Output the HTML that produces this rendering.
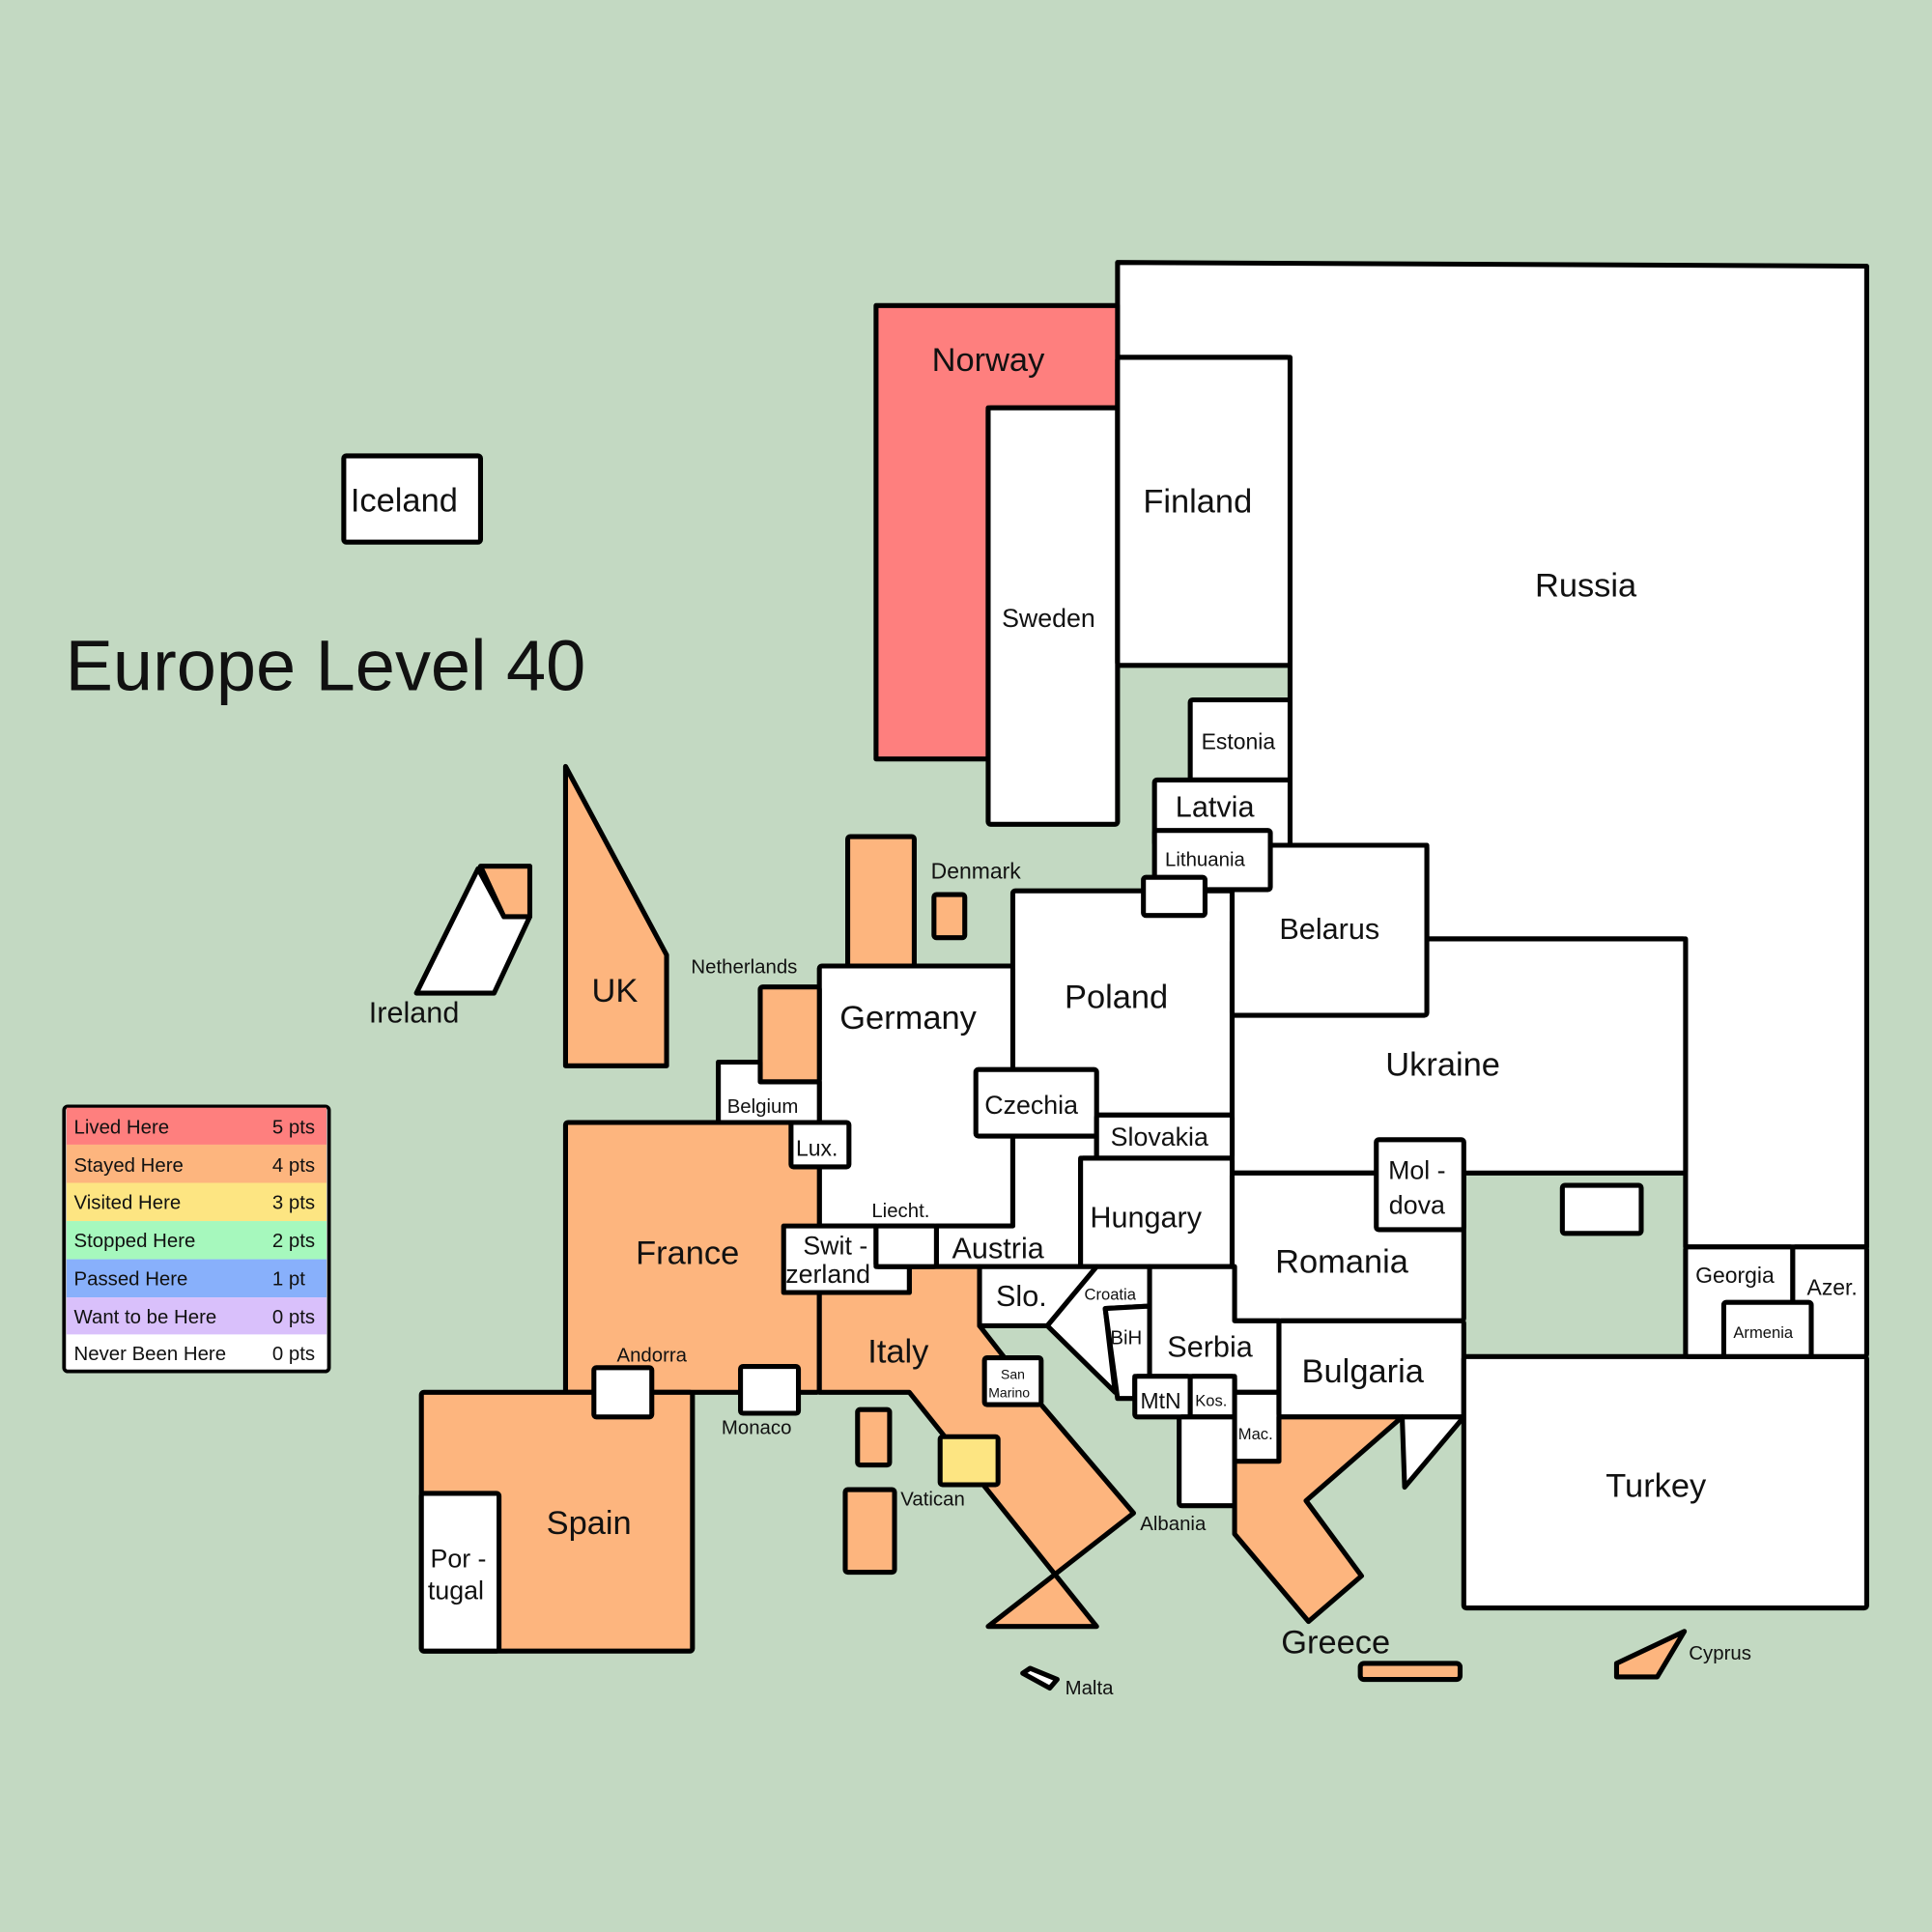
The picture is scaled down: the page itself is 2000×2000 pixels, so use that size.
<!DOCTYPE html>
<html><head><meta charset="utf-8"><style>html,body{margin:0;padding:0;background:#c3d9c2}svg{display:block}</style></head>
<body>
<svg xmlns="http://www.w3.org/2000/svg" width="2000" height="2000" viewBox="0 0 1568 1568" font-family="Liberation Sans, sans-serif">
<rect width="1568" height="1568" fill="#c3d9c2"/>
<g stroke="#000" stroke-width="4" stroke-linejoin="round">
<polygon fill="#fff" points="907,213 1515,216 1515,1012 1368,1012 1368,762 1158,762 1158,686 1047,686 1047,290 907,290"/>
<polygon fill="#fe7f7e" points="711,248 907,248 907,331 802,331 802,616 711,616"/>
<rect x="802" y="331" width="105" height="338" rx="2" fill="#fff"/>
<rect x="907" y="290" width="140" height="250" rx="2" fill="#fff"/>
<rect x="966" y="568" width="81" height="65" rx="2" fill="#fff"/>
<rect x="937" y="633" width="110" height="53" rx="2" fill="#fff"/>
<rect x="822" y="723" width="178" height="182" rx="2" fill="#fff"/>
<rect x="1000" y="762" width="368" height="190" rx="2" fill="#fff"/>
<rect x="1000" y="686" width="158" height="138" rx="2" fill="#fff"/>
<rect x="937" y="674" width="94" height="48" rx="2" fill="#fff"/>
<rect x="928" y="712" width="50" height="31" rx="2" fill="#fff"/>
<rect x="688" y="679" width="54" height="105" rx="2" fill="#fdb57e"/>
<rect x="758" y="726" width="25" height="35" rx="2" fill="#fdb57e"/>
<rect x="665" y="784" width="157" height="211" rx="2" fill="#fff"/>
<polygon fill="#fff" points="822,922 890,922 890,940 877,940 877,1028 760,1028 760,995 822,995"/>
<rect x="792" y="868" width="98" height="54" rx="2" fill="#fff"/>
<rect x="890" y="905" width="110" height="35" rx="2" fill="#fff"/>
<rect x="877" y="940" width="123" height="88" rx="2" fill="#fff"/>
<rect x="1000" y="952" width="188" height="120" rx="2" fill="#fff"/>
<rect x="1117" y="925" width="71" height="73" rx="2" fill="#fff"/>
<rect x="1268" y="962" width="64" height="39" rx="2" fill="#fff"/>
<rect x="617" y="801" width="48" height="77" rx="2" fill="#fdb57e"/>
<polygon fill="#fff" points="583,862 617,862 617,878 665,878 665,911 583,911"/>
<rect x="459" y="911" width="206" height="219" rx="2" fill="#fdb57e"/>
<rect x="642" y="911" width="47" height="36" rx="2" fill="#fff"/>
<polygon fill="#fdb57e" points="665,1130 738,1130 890,1320 802,1320 920,1228 845,1140 795,1076 795,1028 738,1028 738,1049 665,1049"/>
<polygon fill="#fff" points="636,995 711,995 711,1028 738,1028 738,1049 636,1049"/>
<rect x="711" y="995" width="49" height="33" rx="2" fill="#fff"/>
<polygon fill="#fff" points="795,1028 890,1028 850,1076 795,1076"/>
<polygon fill="#fff" points="890,1028 933,1028 933,1060 897,1062 905,1130 850,1076"/>
<polygon fill="#fff" points="897,1062 933,1060 933,1117 921,1117 921,1135 907,1135"/>
<polygon fill="#fff" points="933,1028 1002,1028 1002,1072 1038,1072 1038,1130 1002,1130 1002,1117 933,1117"/>
<rect x="921" y="1117" width="45" height="33" rx="2" fill="#fff"/>
<rect x="966" y="1117" width="36" height="33" rx="2" fill="#fff"/>
<rect x="957" y="1150" width="45" height="72" rx="2" fill="#fff"/>
<rect x="1002" y="1130" width="36" height="56" rx="2" fill="#fff"/>
<rect x="1038" y="1072" width="150" height="78" rx="2" fill="#fff"/>
<polygon fill="#fdb57e" points="1002,1186 1038,1186 1038,1150 1138,1150 1060,1218 1105,1279 1062,1316 1002,1245"/>
<polygon fill="#fff" points="1138,1150 1188,1150 1140,1207"/>
<rect x="1188" y="1101" width="327" height="204" rx="2" fill="#fff"/>
<rect x="1368" y="1012" width="87" height="89" rx="2" fill="#fff"/>
<rect x="1455" y="1012" width="60" height="89" rx="2" fill="#fff"/>
<rect x="1399" y="1057" width="71" height="44" rx="2" fill="#fff"/>
<rect x="1104" y="1350" width="81" height="13" rx="3" fill="#fdb57e"/>
<polygon fill="#fdb57e" points="1312,1350 1367,1324 1345,1361 1312,1361"/>
<polygon fill="#fff" points="830,1358 836,1354 858,1363 852,1370"/>
<rect x="342" y="1130" width="220" height="210" rx="2" fill="#fdb57e"/>
<rect x="342" y="1212" width="63" height="128" rx="2" fill="#fff"/>
<rect x="482" y="1110" width="47" height="40" rx="2" fill="#fff"/>
<rect x="601" y="1109" width="47" height="38" rx="2" fill="#fff"/>
<rect x="696" y="1144" width="26" height="45" rx="2" fill="#fdb57e"/>
<rect x="686" y="1209" width="40" height="67" rx="2" fill="#fdb57e"/>
<rect x="763" y="1166" width="47" height="39" rx="2" fill="#fde582"/>
<rect x="799" y="1102" width="46" height="38" rx="2" fill="#fff"/>
<polygon fill="#fdb57e" points="459,622 541,775 541,865 459,865"/>
<polygon fill="#fff" points="388,705 409,744 430,744 401,806 338,806"/>
<polygon fill="#fdb57e" points="390,703 430,703 430,744 409,744"/>
<rect x="279" y="370" width="111" height="70" rx="2" fill="#fff"/>
</g>
<g fill="#111">
<text x="53" y="560" font-size="58">Europe Level 40</text>
<g font-size="27" text-anchor="middle">
<text x="802" y="301">Norway</text><text x="972" y="416">Finland</text><text x="1287" y="484">Russia</text>
<text x="906" y="818">Poland</text><text x="1171" y="873">Ukraine</text><text x="737" y="835">Germany</text>
<text x="558" y="1026">France</text><text x="729" y="1106">Italy</text><text x="478" y="1245">Spain</text>
<text x="1344" y="1215">Turkey</text><text x="499" y="813">UK</text><text x="1084" y="1342">Greece</text>
<text x="1089" y="1033">Romania</text><text x="1106" y="1122">Bulgaria</text><text x="328" y="415">Iceland</text>
</g>
<g font-size="24" text-anchor="middle">
<text x="1079" y="762">Belarus</text><text x="930" y="996">Hungary</text><text x="810" y="1021">Austria</text>
<text x="982" y="1101">Serbia</text><text x="829" y="1060">Slo.</text><text x="336" y="830">Ireland</text>
<text x="986" y="663">Latvia</text>
</g>
<g font-size="21" text-anchor="middle">
<text x="851" y="509">Sweden</text><text x="837" y="904">Czechia</text><text x="941" y="930">Slovakia</text>
<text x="1150" y="957">Mol -</text><text x="1150" y="985">dova</text>
<text x="372" y="1272">Por -</text><text x="370" y="1298">tugal</text>
<text x="678" y="1018">Swit -</text><text x="672" y="1041">zerland</text>
</g>
<g font-size="18" text-anchor="middle">
<text x="1005" y="608">Estonia</text><text x="792" y="713">Denmark</text><text x="663" y="938">Lux.</text>
<text x="1408" y="1041">Georgia</text><text x="1487" y="1051">Azer.</text><text x="942" y="1143">MtN</text>
</g>
<g font-size="16" text-anchor="middle">
<text x="978" y="703">Lithuania</text><text x="604" y="790">Netherlands</text><text x="619" y="903">Belgium</text>
<text x="731" y="988">Liecht.</text><text x="529" y="1105">Andorra</text><text x="614" y="1164">Monaco</text>
<text x="757" y="1222">Vatican</text><text x="952" y="1242">Albania</text><text x="884" y="1375">Malta</text>
<text x="1396" y="1347">Cyprus</text><text x="914" y="1091">BiH</text>
</g>
<g font-size="13" text-anchor="middle">
<text x="901" y="1055">Croatia</text><text x="983" y="1141">Kos.</text><text x="1019" y="1168">Mac.</text>
<text x="1431" y="1086">Armenia</text>
</g>
<g font-size="11" text-anchor="middle"><text x="822" y="1119">San</text><text x="819" y="1134">Marino</text></g>
</g>
<g>
<rect x="52" y="898" width="215" height="215" rx="3" fill="#fff" stroke="#000" stroke-width="3"/>
<rect x="54" y="899" width="211" height="30" fill="#fe7f7e"/>
<rect x="54" y="929" width="211" height="31" fill="#fdb57e"/>
<rect x="54" y="960" width="211" height="31" fill="#fde582"/>
<rect x="54" y="991" width="211" height="31" fill="#a6f8bd"/>
<rect x="54" y="1022" width="211" height="31" fill="#88b0fb"/>
<rect x="54" y="1053" width="211" height="30" fill="#d9c0fb"/>
<g font-size="16" fill="#111">
<text x="60" y="920">Lived Here</text><text x="221" y="920">5 pts</text>
<text x="60" y="951">Stayed Here</text><text x="221" y="951">4 pts</text>
<text x="60" y="981">Visited Here</text><text x="221" y="981">3 pts</text>
<text x="60" y="1012">Stopped Here</text><text x="221" y="1012">2 pts</text>
<text x="60" y="1043">Passed Here</text><text x="221" y="1043">1 pt</text>
<text x="60" y="1074">Want to be Here</text><text x="221" y="1074">0 pts</text>
<text x="60" y="1104">Never Been Here</text><text x="221" y="1104">0 pts</text>
</g>
</g>
</svg>
</body></html>
